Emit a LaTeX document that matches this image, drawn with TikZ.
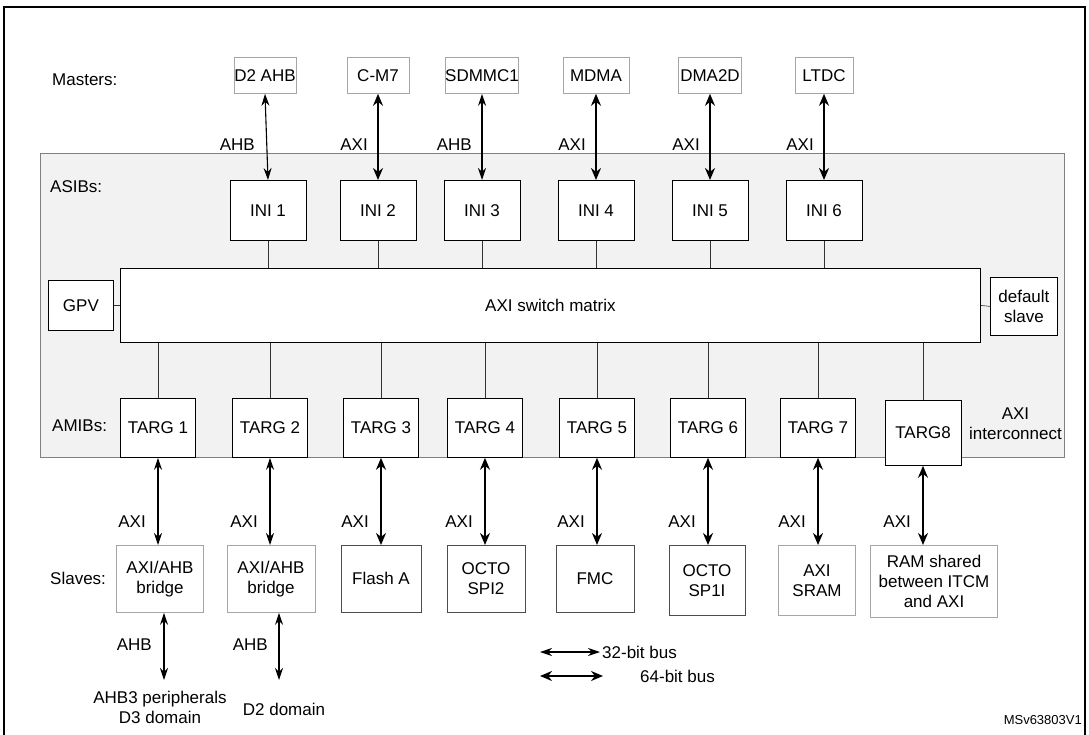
\documentclass[tikz,border=0pt]{standalone}
\usepackage{fontspec}
\setmainfont{Liberation Sans}
\usetikzlibrary{arrows.meta}
\begin{document}
\begin{tikzpicture}[x=1pt,y=-1pt,
  every node/.style={font=\fontsize{17}{20}\selectfont,inner sep=0pt,align=center},
  box/.style={draw=black,fill=white,line width=0.8pt,minimum height=#1,anchor=north},
  gbox/.style={draw=gray!70,fill=white,line width=0.8pt,anchor=north},
  thin/.style={line width=1.1pt,{Stealth[length=12pt,width=8pt]}-{Stealth[length=12pt,width=8pt]}},
  thick/.style={line width=2.4pt,{Stealth[length=12pt,width=10pt]}-{Stealth[length=12pt,width=10pt]}},
  ln/.style={draw=black!80,line width=0.6pt},
  lbl/.style={anchor=east}]
\useasboundingbox (0,0) rectangle (1089,735);
\draw[line width=1.6pt] (4,740) -- (4,7) -- (1085,7) -- (1085,740);
\node[anchor=west] (mlab) at (52,80) {Masters:};
\foreach \n/\t/\x/\w in {m1/D2 AHB/265/62,m2/C-M7/378/62,m3/SDMMC1/482/64,m4/MDMA/596/66,m5/DMA2D/710/63,m6/LTDC/824/58}{
  \node[gbox,minimum width=\w pt,minimum height=36pt] (\n) at (\x,57) {\t};
}
\draw[draw=gray,fill=black!5,line width=0.8pt] (40,153) rectangle (1064,457);
\node[anchor=west] (asib) at (50,187) {ASIBs:};
\node[anchor=west] (amib) at (52,426) {AMIBs:};
\node[anchor=east] (axiic) at (1062,424) {AXI\\interconnect};
\foreach \n/\x in {1/268,2/378,3/482,4/596,5/710,6/824}{
  \node[box=60pt,minimum width=76pt] (i\n) at (\x,180) {INI \n};
}
\node[draw,fill=white,line width=0.8pt,minimum width=860pt,minimum height=74pt,anchor=north west] (sw) at (120,268) {AXI switch matrix};
\node[draw,fill=white,line width=0.8pt,minimum width=65pt,minimum height=50pt,anchor=north west] (gpv) at (48,280) {GPV};
\node[draw,fill=white,line width=0.8pt,minimum width=67pt,minimum height=58pt,anchor=north west] (ds) at (990,277) {default\\slave};
\draw[ln] (gpv.east) -- (sw.west);
\draw[ln] (ds.west) -- (sw.east);
\foreach \n in {1,...,6}{ \draw[ln] (i\n.south) -- (i\n.south |- sw.north); }
\foreach \n/\x in {1/158,2/270,3/381,4/485,5/597,6/708,7/818}{
  \node[box=59pt,minimum width=75pt] (t\n) at (\x,398) {TARG \n};
}
\node[box=65pt,minimum width=76pt] (t8) at (923,400) {TARG8};
\foreach \n in {1,...,8}{ \draw[ln] (t\n.north |- sw.south) -- (t\n.north); }
\foreach \n/\s/\l in {1/thin/AHB,2/thick/AXI,3/thin/AHB,4/thick/AXI,5/thick/AXI,6/thick/AXI}{
  \draw[\s] (m\n.south) -- (i\n.north);
  \node[lbl] at ([xshift=-10pt]m\n.south |- 0,145) {\l};
}
\node[anchor=west] (slab) at (50,578) {Slaves:};
\node[gbox,minimum width=87pt,minimum height=67pt] (s1) at (160,545) {AXI/AHB\\bridge};
\node[gbox,minimum width=88pt,minimum height=67pt] (s2) at (271,545) {AXI/AHB\\bridge};
\node[box=67pt,draw=black!70,minimum width=80pt] (s3) at (381,545) {Flash A};
\node[box=67pt,draw=black!70,minimum width=78pt] (s4) at (486,545) {OCTO\\SPI2};
\node[box=67pt,draw=black!70,minimum width=78pt] (s5) at (595,545) {FMC};
\node[box=70pt,draw=black!70,minimum width=76pt] (s6) at (707,545) {OCTO\\SP1I};
\node[gbox,minimum width=77pt,minimum height=70pt] (s7) at (817,545) {AXI\\SRAM};
\node[gbox,minimum width=127pt,minimum height=72pt] (s8) at (934,545) {RAM shared\\between ITCM\\and AXI};
\foreach \n/\s in {1/thin,2/thin,3/thick,4/thick,5/thick,6/thick,7/thick,8/thick}{
  \draw[\s] (t\n.south) -- (t\n.south |- s\n.north);
  \node[lbl] at ([xshift=-12pt]t\n.south |- 0,522) {AXI};
}
\coordinate (d1) at (164,680);
\coordinate (d2) at (279,680);
\draw[thin] (s1.south -| d1) -- (d1);
\draw[thin] (s2.south -| d2) -- (d2);
\node[lbl] at (152,645) {AHB};
\node[lbl] at (268,645) {AHB};
\node (p1) at (160,707) {AHB3 peripherals\\D3 domain};
\node (p2) at (284,709) {D2 domain};
\coordinate (a1) at (540,652); \coordinate (a2) at (600,652);
\coordinate (b1) at (540,676); \coordinate (b2) at (603,676);
\draw[thin] (a1) -- (a2);
\draw[thick] (b1) -- (b2);
\node[anchor=west] at (602,652) {32-bit bus};
\node[anchor=west] at (640,676) {64-bit bus};
\node[anchor=east,font=\fontsize{13}{15}\selectfont] at (1082,720) {MSv63803V1};
\end{tikzpicture}
\end{document}
